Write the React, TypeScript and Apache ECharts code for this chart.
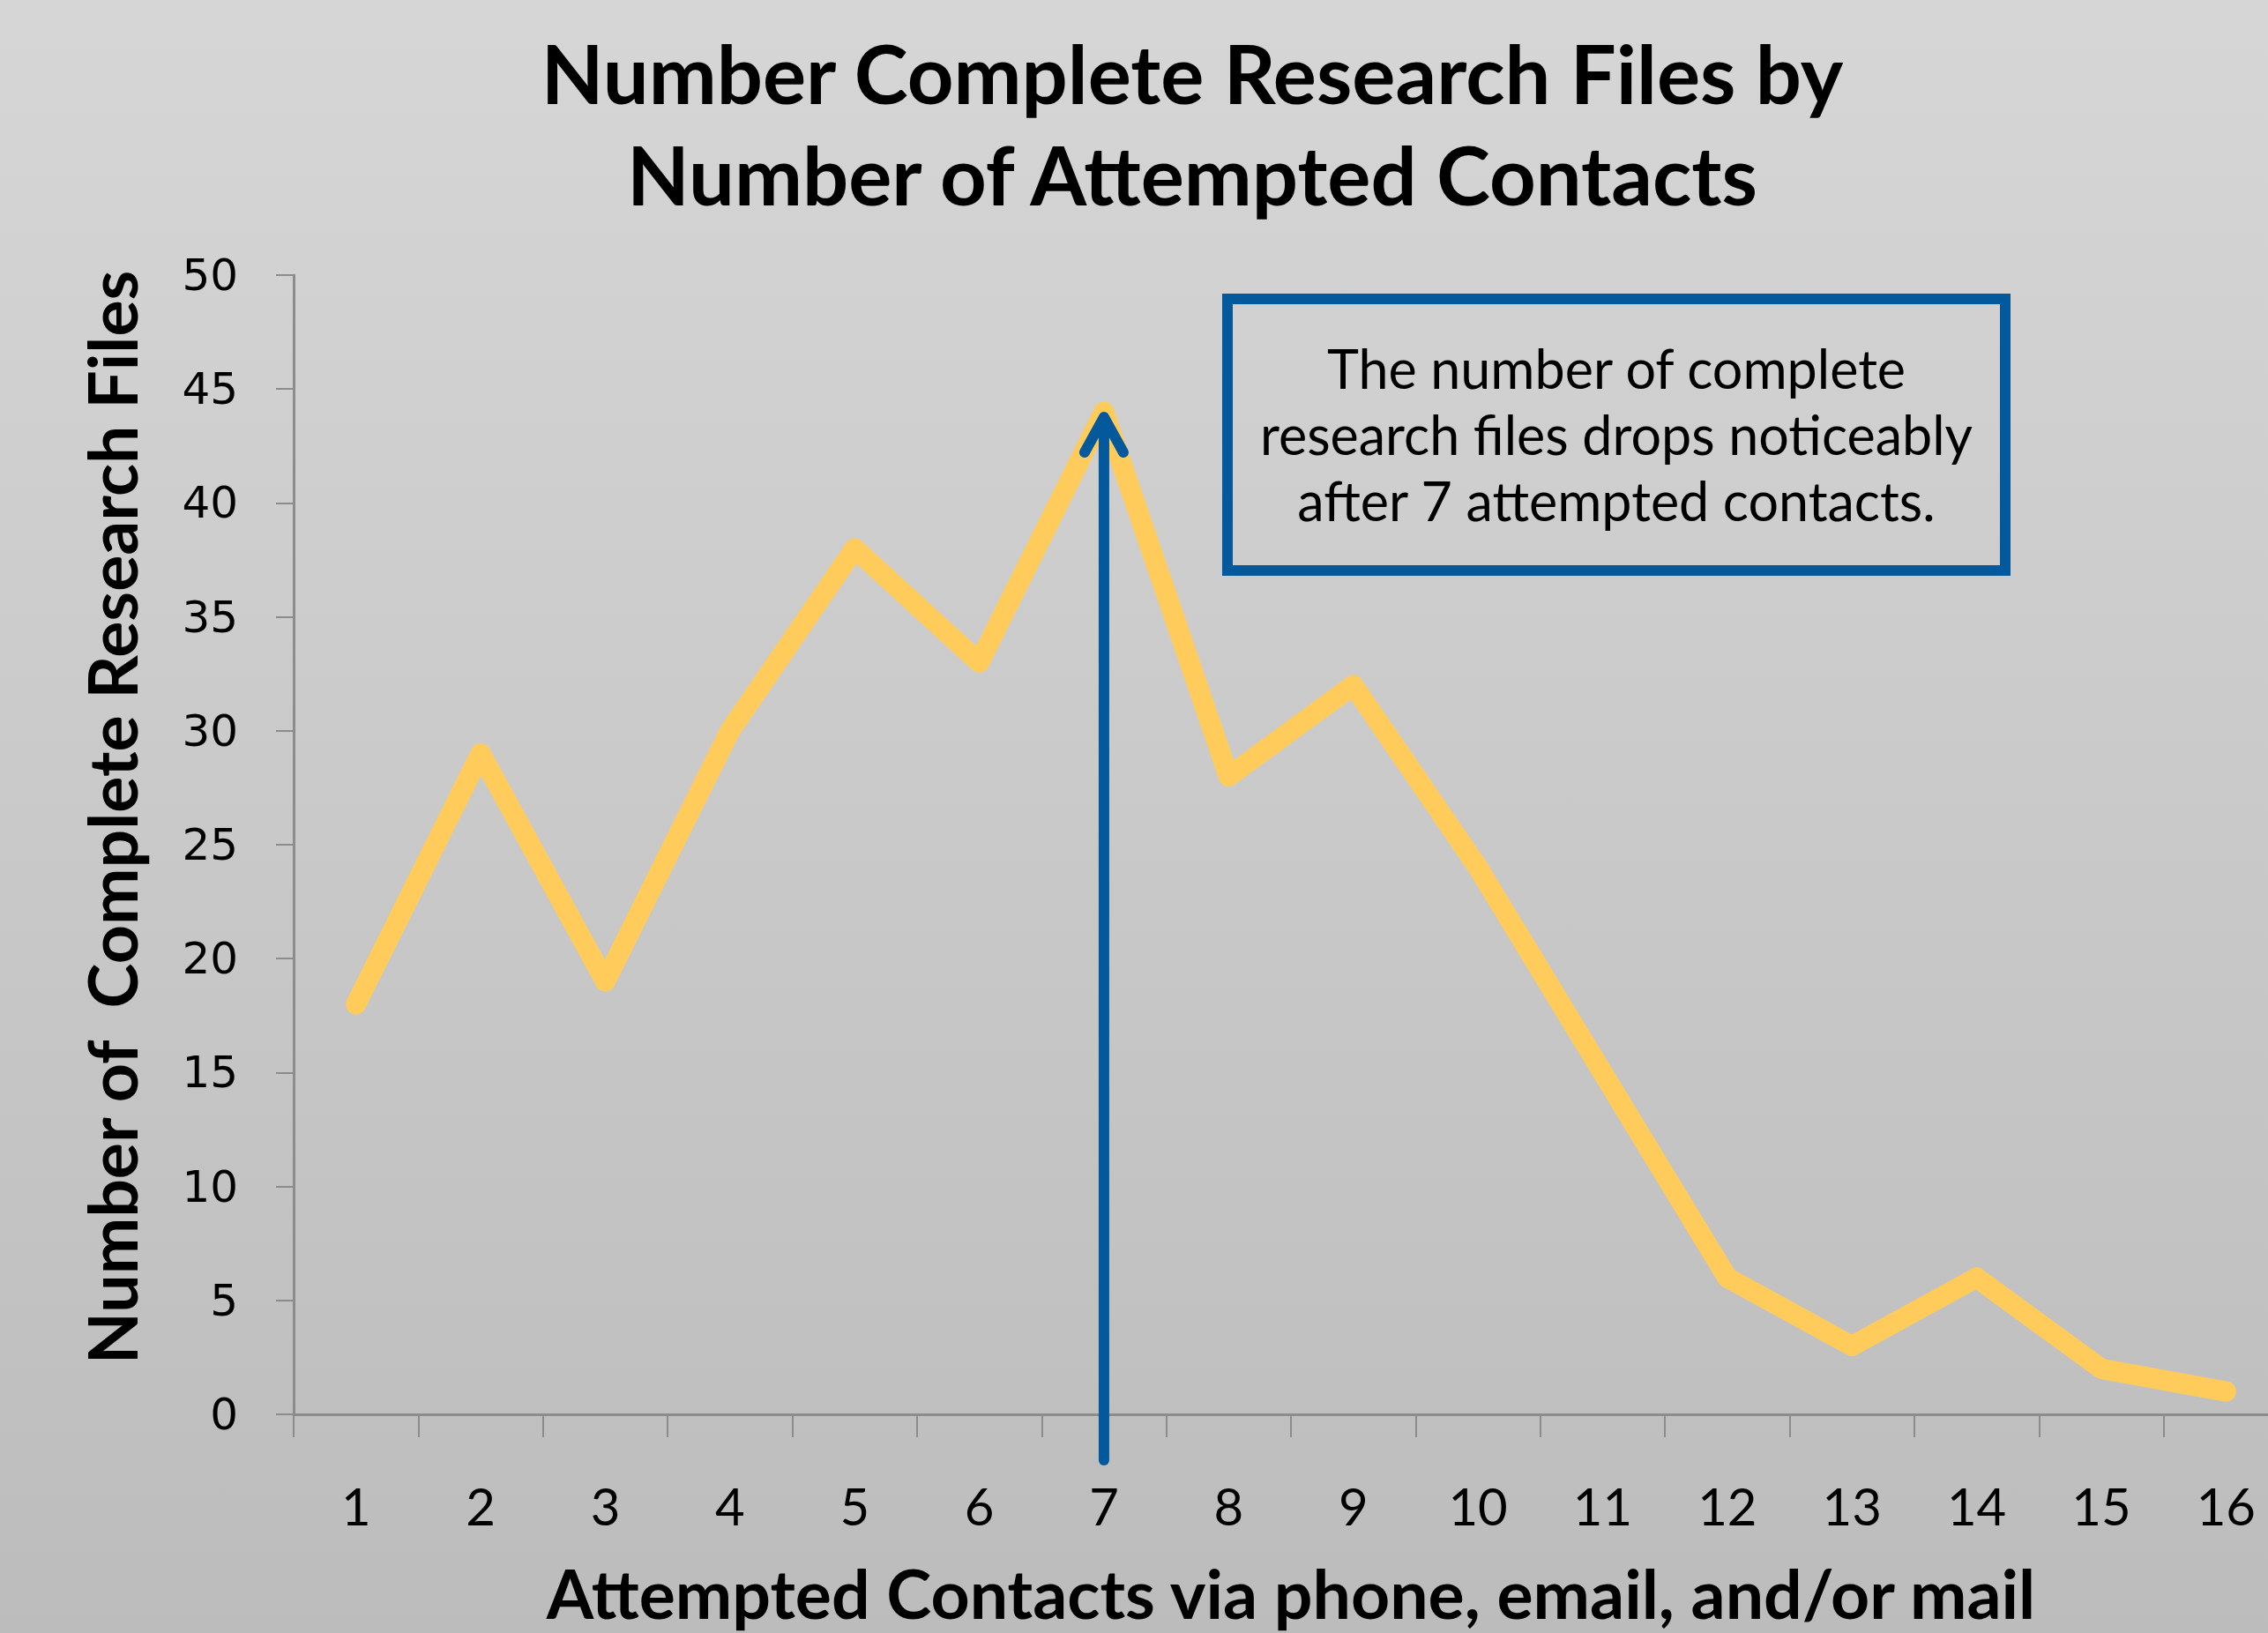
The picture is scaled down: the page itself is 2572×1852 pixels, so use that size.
import React, { useEffect, useRef } from "react";
import * as echarts from "echarts";

const categories = ["1", "2", "3", "4", "5", "6", "7", "8", "9", "10", "11", "12", "13", "14", "15", "16"];
const completeFiles = [18, 29, 19, 30, 38, 33, 44, 28, 32, 24, 15, 6, 3, 6, 2, 1];
const yMin = 0;
const yMax = 50;
const yInterval = 5;
const chartTitle = "Number Complete Research Files by\nNumber of Attempted Contacts";
const xTitle = "Attempted Contacts via phone, email, and/or mail";
const yTitle = "Number of  Complete Research Files";
const noteLines = ["The number of complete", "research files drops noticeably", "after 7 attempted contacts."];
const arrowCategory = "7";

const W = 2572;
const H = 1852;
const CHART_W = 2640;
const BLUE = "#03599C";
const AXIS = "#8C8C8C";

export default function App() {
  const ref = useRef<HTMLDivElement>(null);
  useEffect(() => {
    if (!ref.current) return;
    const chart = echarts.init(ref.current, null, { renderer: "svg" });
    const option: any = {
      animation: false,
      backgroundColor: {
        type: "linear",
        x: 0,
        y: 0,
        x2: 0,
        y2: 1,
        colorStops: [
          { offset: 0, color: "#D6D6D6" },
          { offset: 1, color: "#BCBCBC" },
        ],
      },
      title: {
        text: chartTitle,
        left: 1347,
        top: 20,
        textAlign: "center",
        textStyle: {
          fontFamily: "Lato",
          fontWeight: "bold",
          fontSize: 92,
          lineHeight: 115,
          color: "#000",
        },
      },
      grid: { left: 333, top: 312, width: 2262, height: 1292, containLabel: false },
      xAxis: {
        type: "category",
        data: categories,
        boundaryGap: true,
        name: xTitle,
        nameLocation: "middle",
        nameGap: 163,
        nameTextStyle: { fontFamily: "Lato", fontWeight: "bold", fontSize: 77, color: "#000" },
        axisLine: { show: true, lineStyle: { color: AXIS, width: 3 } },
        axisTick: { show: true, length: 26, interval: 0, lineStyle: { color: AXIS, width: 2 } },
        axisLabel: { interval: 0, margin: 74, fontFamily: "Lato", fontSize: 58, color: "#000" },
        splitLine: { show: false },
      },
      yAxis: {
        type: "value",
        min: yMin,
        max: yMax,
        interval: yInterval,
        axisLine: { show: true, lineStyle: { color: AXIS, width: 3 } },
        axisTick: { show: true, length: 20, lineStyle: { color: AXIS, width: 2 } },
        axisLabel: { margin: 63, fontFamily: "DejaVu Sans", fontSize: 50, color: "#000" },
        splitLine: { show: false },
      },
      series: [
        {
          type: "line",
          data: completeFiles,
          symbol: "none",
          smooth: false,
          lineStyle: { color: "#FFCC5C", width: 23, cap: "round", join: "round" },
          z: 2,
        },
      ],
    };
    chart.setOption(option);

    const idx = categories.indexOf(arrowCategory);
    const top = chart.convertToPixel({ gridIndex: 0 }, [idx, completeFiles[idx]]) as number[];
    const base = chart.convertToPixel({ gridIndex: 0 }, [idx, yMin]) as number[];
    const ax = top[0];
    const tipY = top[1] + 6;
    const bottomY = base[1] + 52;

    const boxX = 1392;
    const boxY = 339;
    const boxW = 882;
    const boxH = 308;

    chart.setOption({
      graphic: [
        {
          type: "text",
          x: 126,
          y: 927,
          rotation: Math.PI / 2,
          style: {
            text: yTitle,
            fontFamily: "Lato",
            fontWeight: "bold",
            fontSize: 77,
            fill: "#000",
            align: "center",
            verticalAlign: "middle",
          },
        },
        {
          type: "line",
          z: 100,
          shape: { x1: ax, y1: bottomY, x2: ax, y2: tipY + 4 },
          style: { stroke: BLUE, lineWidth: 12, lineCap: "round" },
        },
        {
          type: "polyline",
          z: 100,
          shape: { points: [[ax - 22, tipY + 40], [ax, tipY], [ax + 22, tipY + 40]] },
          style: { stroke: BLUE, lineWidth: 12, lineCap: "round", lineJoin: "round", fill: "none" },
        },
        {
          type: "rect",
          z: 100,
          shape: { x: boxX, y: boxY, width: boxW, height: boxH },
          style: { stroke: BLUE, lineWidth: 12, fill: "none" },
        },
        ...noteLines.map((t, i) => ({
          type: "text",
          z: 101,
          x: boxX + boxW / 2,
          y: 417 + i * 75,
          style: {
            text: t,
            fontFamily: "Lato",
            fontSize: 61,
            fill: "#000",
            align: "center",
            verticalAlign: "middle",
          },
        })),
      ],
    });

    return () => chart.dispose();
  }, []);
  return (
    <div style={{ position: "fixed", left: 0, top: 0, width: W, height: H, overflow: "hidden" }}>
      <div ref={ref} style={{ position: "absolute", left: 0, top: 0, width: CHART_W, height: H }} />
    </div>
  );
}
